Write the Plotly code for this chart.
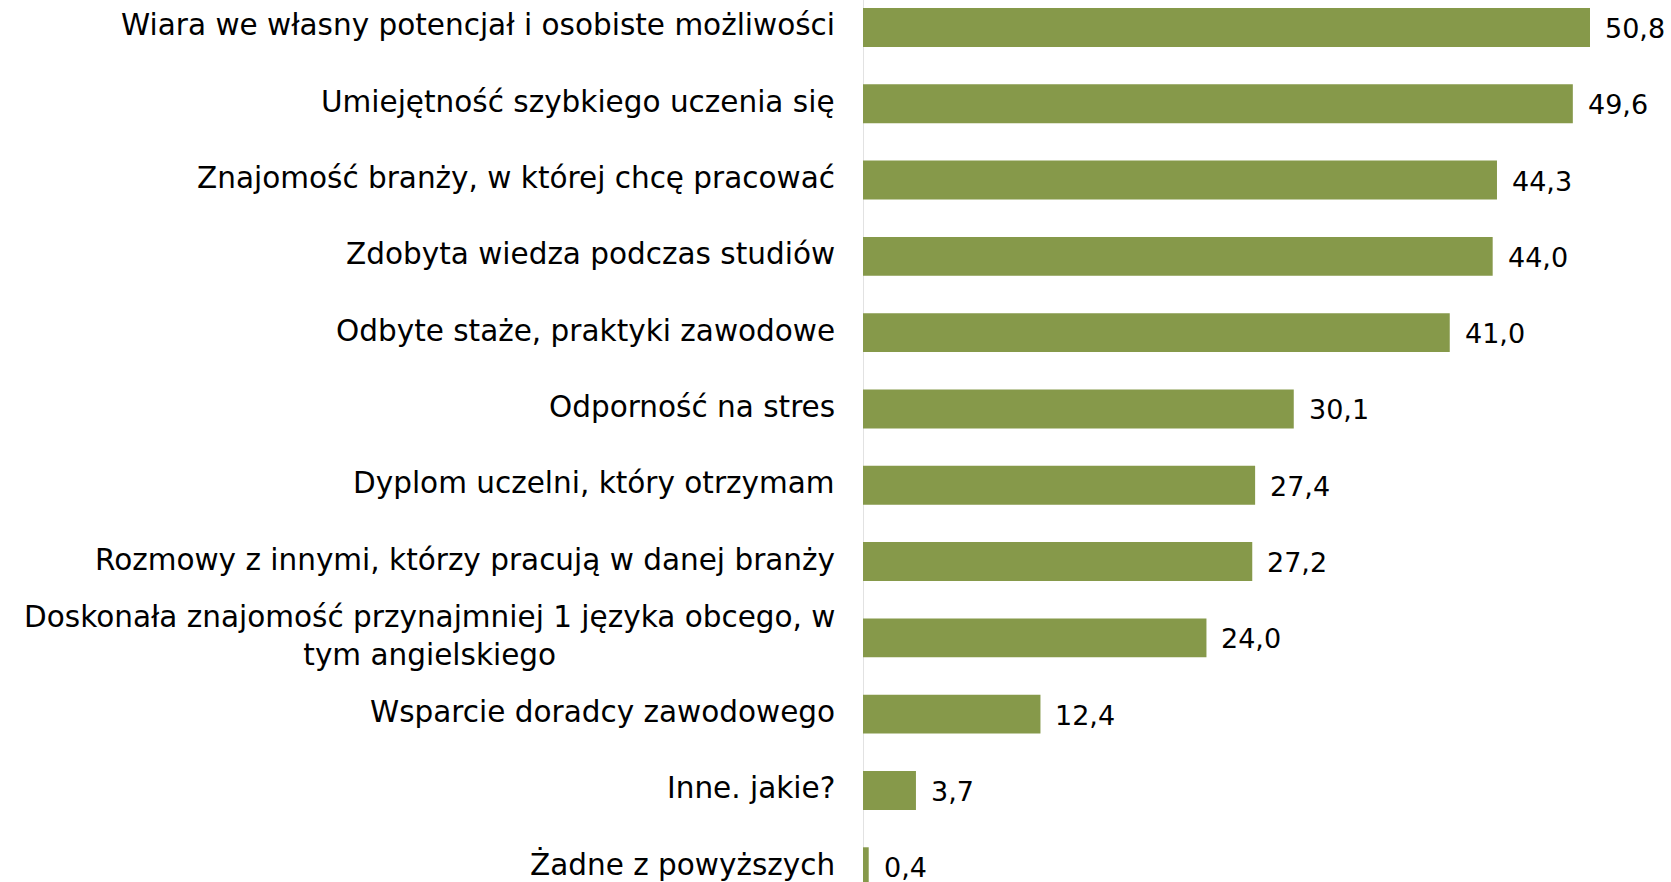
import plotly.graph_objects as go

categories = [
    "Wiara we własny potencjał i osobiste możliwości",
    "Umiejętność szybkiego uczenia się",
    "Znajomość branży, w której chcę pracować",
    "Zdobyta wiedza podczas studiów",
    "Odbyte staże, praktyki zawodowe",
    "Odporność na stres",
    "Dyplom uczelni, który otrzymam",
    "Rozmowy z innymi, którzy pracują w danej branży",
    "Doskonała znajomość przynajmniej 1 języka obcego, w<br>tym angielskiego",
    "Wsparcie doradcy zawodowego",
    "Inne. jakie?",
    "Żadne z powyższych",
]
values = [50.8, 49.6, 44.3, 44.0, 41.0, 30.1, 27.4, 27.2, 24.0, 12.4, 3.7, 0.4]

positions = list(range(len(categories)))
BAR = "#86994A"
FONT = "DejaVu Sans"

fig = go.Figure()
fig.add_trace(go.Bar(
    x=values, y=positions, orientation="h",
    marker=dict(color=BAR, line=dict(width=0)),
    width=0.51, hoverinfo="skip",
))

for p, v in zip(positions, values):
    fig.add_annotation(x=v, y=p, xref="x", yref="y", text=f"{v:.1f}".replace(".", ","),
                       showarrow=False, xanchor="left", yanchor="middle", xshift=13, yshift=-1,
                       font=dict(family=FONT, size=27, color="#000000"))

for p, c in zip(positions, categories):
    fig.add_annotation(x=0, y=p, xref="x", yref="y", text=c, showarrow=False,
                       xanchor="right", yanchor="middle", align="center", xshift=-26, yshift=2,
                       font=dict(family=FONT, size=29.5, color="#000000"))

fig.update_layout(
    width=1671, height=882,
    margin=dict(l=863, r=0, t=0, b=0),
    paper_bgcolor="white", plot_bgcolor="white",
    showlegend=False,
    xaxis=dict(range=[0, 56.46], showgrid=False, zeroline=False, showticklabels=False,
               showline=False, fixedrange=True),
    yaxis=dict(range=[11.20, -0.36], showgrid=False, zeroline=False, showticklabels=False,
               showline=False, fixedrange=True),
    shapes=[dict(type="line", xref="x", yref="paper", x0=0, x1=0, y0=0, y1=1,
                 line=dict(color="#D9D9D9", width=1.5), layer="below")],
)

fig.write_html("out.html", config={"displayModeBar": False},
               post_script="document.body.style.margin='0';document.body.style.overflow='hidden';")
